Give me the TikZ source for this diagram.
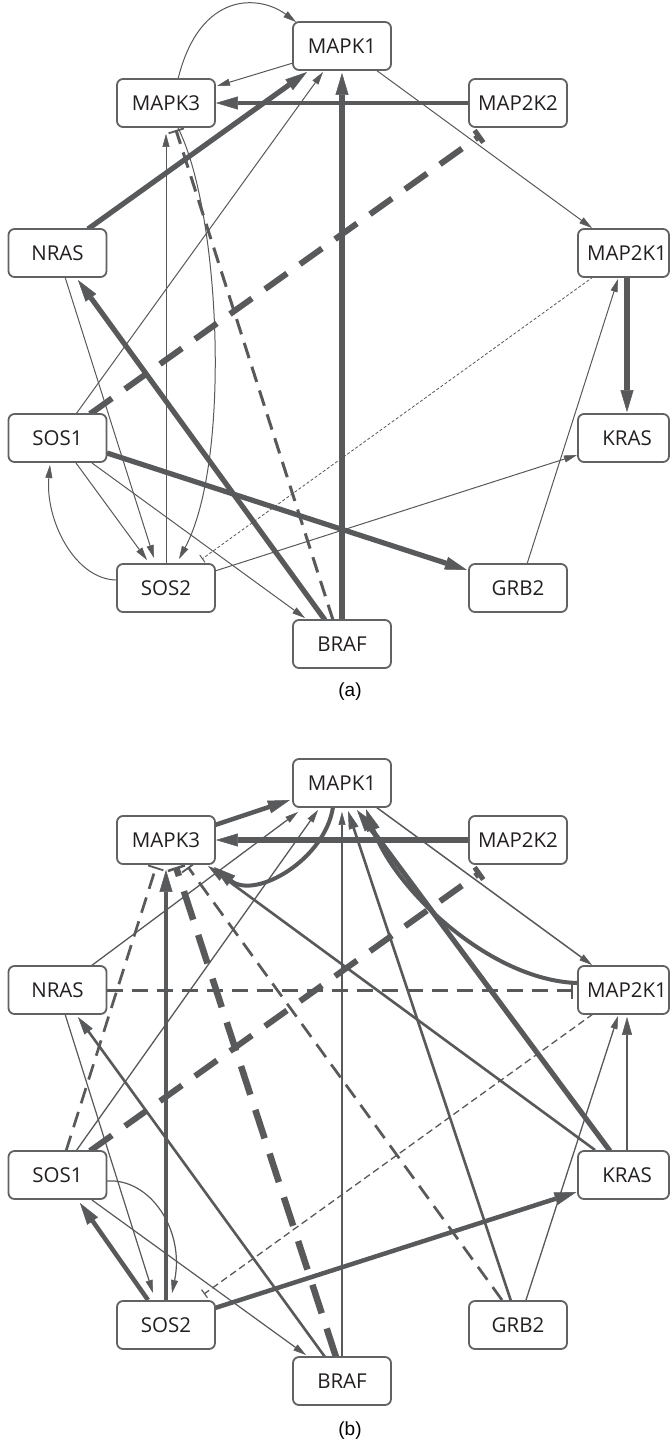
\documentclass[tikz,border=0pt]{standalone}
\usepackage{fontspec}
\setmainfont{Open Sans}
\newfontfamily\capfont{Liberation Sans}
\usetikzlibrary{arrows.meta,calc}
\definecolor{edgec}{HTML}{58595B}
\definecolor{boxline}{HTML}{616264}
\definecolor{txtc}{HTML}{231F20}
\pgfdeclarelayer{bg}
\pgfsetlayers{bg,main}
\tikzset{
  gene/.style={draw=boxline, line width=1.8pt, rounded corners=6pt, fill=white,
    minimum width=98pt, minimum height=48pt, inner sep=0pt,
    font=\fontsize{20.5}{24}\selectfont, text=txtc},
  sidebox/.style={minimum width=91pt},
  caption/.style={font=\capfont\fontsize{19}{22}\selectfont, text=black, inner sep=0pt},
  thinE/.style={draw=edgec, line width=1pt, -{Triangle[length=13pt,width=7pt,line width=0.5pt]}},
  medE/.style={draw=edgec, line width=2.6pt, -{Triangle[length=18pt,width=10pt,line width=0.5pt]}},
  thickE/.style={draw=edgec, line width=5.2pt, -{Triangle[length=22pt,width=13pt,line width=0.5pt]}},
  dashThick/.style={draw=edgec, line width=6pt, dash pattern=on 27pt off 16pt, -{Bar[width=15pt,line width=5pt]}},
  dashXThick/.style={draw=edgec, line width=6.5pt, dash pattern=on 30pt off 16pt, -{Bar[width=18pt,line width=2.5pt]}},
  dashMed/.style={draw=edgec, line width=3pt, dash pattern=on 16pt off 9pt, -{Bar[width=16pt,line width=1.8pt]}},
  dotE/.style={draw=edgec, line width=0.8pt, dash pattern=on 3pt off 2pt, -{Bar[width=9pt,line width=1pt]}},
  dashThin/.style={draw=edgec, line width=1.3pt, dash pattern=on 7pt off 4pt, -{Bar[width=10pt,line width=1.2pt]}},
}
\begin{document}
\begin{tikzpicture}[x=1pt,y=-1pt]
\useasboundingbox (0,0) rectangle (671,1445);

% ---------------- panel (a) nodes
\node[gene] (MAPK1) at (342,46) {MAPK1};
\node[gene] (MAPK3) at (166,103) {MAPK3};
\node[gene] (MAP2K2) at (518,103) {MAP2K2};
\node[gene] (NRAS) at (57.5,253) {NRAS};
\node[gene,sidebox] (MAP2K1) at (623.5,253) {\hspace*{7pt}MAP2K1};
\node[gene] (SOS1) at (57.5,438) {SOS1};
\node[gene,sidebox] (KRAS) at (623.5,438) {\hspace*{7pt}KRAS};
\node[gene] (SOS2) at (166,588) {SOS2};
\node[gene] (GRB2) at (518,588) {GRB2};
\node[gene] (BRAF) at (342,644) {BRAF};
\node[caption] (capa) at (350,692) {(a)};

% ---------------- panel (b) nodes
\node[gene] (bMAPK1) at (342,783) {MAPK1};
\node[gene] (bMAPK3) at (166,840) {MAPK3};
\node[gene] (bMAP2K2) at (518,840) {MAP2K2};
\node[gene] (bNRAS) at (57.5,990) {NRAS};
\node[gene,sidebox] (bMAP2K1) at (623.5,990) {\hspace*{7pt}MAP2K1};
\node[gene] (bSOS1) at (57.5,1175) {SOS1};
\node[gene,sidebox] (bKRAS) at (623.5,1175) {\hspace*{7pt}KRAS};
\node[gene] (bSOS2) at (166,1325) {SOS2};
\node[gene] (bGRB2) at (518,1325) {GRB2};
\node[gene] (bBRAF) at (342,1381) {BRAF};
\node[caption] (capb) at (350,1431) {(b)};

\begin{pgfonlayer}{bg}
\fill[white] (0,0) rectangle (671,1445);
% ---------------- panel (a) edges
\draw[thinE] ($(MAPK3)+(12,-24)$) .. controls ($(MAPK3)+(34,-113)$) and ($(MAPK1)+(-82,-51)$) .. ($(MAPK1)+(-46,-24)$);
\draw[thinE] ($(MAPK1)+(-49,17)$) -- ($(MAPK3)+(51,-17)$);
\draw[thickE,line width=4pt] (MAP2K2.west) -- (MAPK3.east);
\draw[thickE] ($(NRAS)+(30.5,-24)$) -- ($(MAPK1)+(-35,26)$);
\draw[thinE] ($(SOS1)+(18.5,-24)$) -- ($(MAPK1)+(-19,26)$);
\draw[thickE] (BRAF.north) -- ($(MAPK1.south)+(0,2)$);
\draw[thinE] ($(MAPK1)+(34,24)$) -- ($(MAP2K1)+(-31.5,-25)$);
\draw[dashThick] ($(SOS1)+(32.5,-24)$) -- ($(MAP2K2)+(-37,32)$);
\draw[thinE] (SOS2.north) -- ($(MAPK3.south)+(0,6)$);
\draw[dashMed] ($(BRAF)+(-9,-24)$) -- ($(MAPK3)+(10,27)$);
\draw[thinE] ($(MAPK3)+(12,25)$) .. controls ($(MAPK3)+(54,107)$) and ($(SOS2)+(66,-128)$) .. ($(SOS2)+(13,-29)$);
\draw[thinE] ($(NRAS)+(7.5,24)$) -- ($(SOS2)+(-12,-30)$);
\draw[thickE] ($(BRAF)+(-17,-24)$) -- ($(NRAS)+(20.5,27)$);
\draw[thickE] ($(SOS1)+(49.5,15)$) -- ($(GRB2)+(-51,-18)$);
\draw[thinE] ($(SOS1)+(18.5,25)$) -- ($(SOS2)+(-19,-28)$);
\draw[thinE] ($(SOS1)+(34.5,25)$) -- ($(BRAF)+(-37,-26)$);
\draw[thinE] ($(SOS2)+(-49,-8)$) .. controls ($(SOS2)+(-91,-8)$) and ($(SOS1)+(-12.5,82)$) .. ($(SOS1)+(-7.5,27)$);
\draw[thinE] ($(SOS2)+(49,-17)$) -- ($(KRAS)+(-46.5,17)$);
\draw[dotE] ($(MAP2K1)+(-30.5,24)$) -- ($(SOS2)+(36,-29)$);
\draw[thinE] ($(GRB2)+(9,-24)$) -- ($(MAP2K1)+(-5.5,26)$);
\draw[thickE] ($(MAP2K1.south)+(3.5,0)$) -- ($(KRAS.north)+(3.5,-1)$);

% ---------------- panel (b) edges
\draw[thickE,line width=4.5pt] ($(bMAPK3)+(49,-15)$) -- ($(bMAPK1)+(-52,17)$);
\draw[thickE,line width=6pt] (bMAP2K2.west) -- (bMAPK3.east);
\draw[thickE,line width=4pt] ($(bMAPK1)+(-9,24)$) .. controls ($(bMAPK1)+(-17,77)$) and ($(bMAPK3)+(89,60)$) .. ($(bMAPK3)+(48,27)$);
\draw[thinE,line width=1.3pt] ($(bNRAS)+(33.5,-24)$) -- ($(bMAPK1)+(-44,29)$);
\draw[thinE,line width=1.3pt] ($(bSOS1)+(18.5,-24)$) -- ($(bMAPK1)+(-24,27)$);
\draw[thinE,line width=1.5pt] (bBRAF.north) -- ($(bMAPK1.south)+(0,4)$);
\draw[thinE,line width=1.5pt] ($(bMAPK1)+(34,24)$) -- ($(bMAP2K1)+(-31.5,-25)$);
\draw[thickE,line width=4pt] ($(bMAP2K1)+(-46.5,-7)$) .. controls ($(bMAP2K1)+(-133.5,-10)$) and ($(bMAPK1)+(53,107)$) .. ($(bMAPK1)+(24,26)$);
\draw[thickE] ($(bKRAS)+(-13.5,-24)$) -- ($(bMAPK1)+(15,27)$);
\draw[medE] ($(bGRB2)+(-7,-24)$) -- ($(bMAPK1)+(6,28)$);
\draw[medE] ($(bKRAS)+(-28.5,-25)$) -- ($(bMAPK3)+(42,26)$);
\draw[dashThick] ($(bSOS1)+(32.5,-24)$) -- ($(bMAP2K2)+(-37,32)$);
\draw[dashMed,-{Bar[width=17pt,line width=2.5pt]}] (bNRAS.east) -- ($(bMAP2K1.west)+(-4,0)$);
\draw[dashXThick] ($(bBRAF)+(-6,-24)$) -- ($(bMAPK3)+(10,27)$);
\draw[dashMed,line width=2.7pt] ($(bGRB2)+(-16,-25)$) -- ($(bMAPK3)+(22,27)$);
\draw[dashMed,line width=2.7pt] ($(bSOS1)+(8.5,-24)$) -- ($(bMAPK3)+(-10,27)$);
\draw[thickE,line width=4pt] (bSOS2.north) -- ($(bMAPK3.south)+(0,5)$);
\draw[medE] ($(bBRAF)+(-17,-24)$) -- ($(bNRAS)+(20.5,27)$);
\draw[thinE,line width=1.2pt] ($(bNRAS)+(7.5,24)$) -- ($(bSOS2)+(-13,-32)$);
\draw[thickE,line width=4.5pt] ($(bSOS2)+(-18,-25)$) -- ($(bSOS1)+(22.5,28)$);
\draw[thinE,line width=1.2pt] ($(bSOS1)+(34.5,25)$) -- ($(bBRAF)+(-36,-26)$);
\draw[thinE,line width=1.2pt] ($(bSOS1)+(49.5,6)$) .. controls ($(bSOS1)+(92.5,3)$) and ($(bSOS2)+(19,-95)$) .. ($(bSOS2)+(6,-32)$);
\draw[thickE,line width=4.5pt] ($(bSOS2)+(49,-17)$) -- ($(bKRAS)+(-47,17)$);
\draw[dashThin] ($(bMAP2K1)+(-30.5,24)$) -- ($(bSOS2)+(38,-31)$);
\draw[thinE,line width=1.3pt] ($(bGRB2)+(8,-25)$) -- ($(bMAP2K1)+(-5.5,26)$);
\draw[medE,line width=2pt] ($(bKRAS.north)+(3.5,0)$) -- ($(bMAP2K1.south)+(3.5,2)$);
\end{pgfonlayer}
\end{tikzpicture}
\end{document}
